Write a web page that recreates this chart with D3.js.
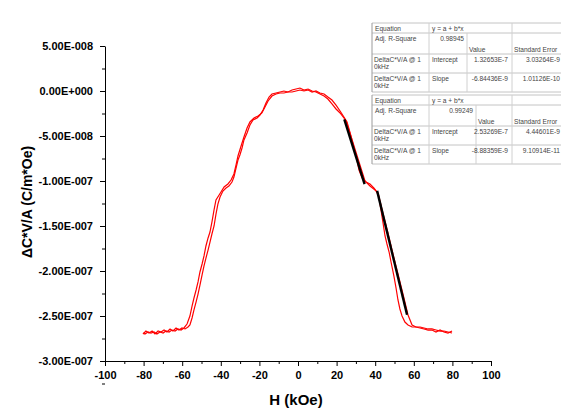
<!DOCTYPE html>
<html>
<head>
<meta charset="utf-8">
<script src="https://cdn.jsdelivr.net/npm/d3@7"></script>
<style>
  body { margin: 0; background: #fff; }
  text { font-family: Arial, "Liberation Sans", sans-serif; }
</style>
</head>
<body>
<svg id="chart" width="561" height="410"></svg>
<script>
// sweep up: H (kOe) and signal (units of 1e-8 C/m*Oe)
var hUp = [-80.3,-78.8,-77.2,-75.6,-74.1,-72.5,-71.0,-69.4,-67.9,-66.3,-64.8,-63.2,-61.7,-60.1,-58.5,-57.0,
  -56.0,-54.9,-53.9,-52.8,-51.8,-50.8,-49.7,-48.7,-47.7,-46.6,-45.6,-44.6,-43.5,-42.5,-41.5,-40.4,-38.9,-37.3,
  -35.8,-34.2,-33.2,-32.1,-31.1,-30.1,-29.0,-28.0,-26.4,-24.9,-23.3,-21.2,-19.7,-18.1,-16.6,-15.0,-13.5,-11.4,
  -9.3,-7.3,-5.2,-3.1,-1.0,1.0,3.1,5.2,7.3,9.3,11.4,13.5,15.5,17.6,19.7,21.8,23.8,24.9,26.9,29.5,32.1,34.7,
  37.3,39.9,41.5,44.0,46.6,49.2,51.8,54.4,57.0,59.1,61.1,63.2,65.3,67.4,69.4,71.5,73.6,75.6,77.7,79.8];
var vUp = [-27.0,-26.67,-26.89,-26.67,-27.0,-26.67,-26.78,-26.56,-26.78,-26.44,-26.67,-26.33,-26.56,-26.33,-26.44,-26.22,
  -26.0,-25.22,-24.33,-23.44,-22.56,-21.56,-20.44,-19.44,-18.56,-17.67,-16.78,-15.89,-15.0,-13.67,-12.56,-11.78,-11.11,-10.78,
  -10.56,-10.11,-9.56,-8.56,-7.67,-7.11,-6.33,-5.44,-4.67,-3.78,-3.22,-3.0,-2.67,-2.11,-1.33,-0.67,-0.33,-0.22,
  -0.11,0,-0.11,0.11,0.22,0.33,0.11,0.22,0,-0.11,-0.33,-0.56,-0.89,-1.44,-2.0,-2.44,-3.0,-3.33,-4.67,-6.44,-8.22,-10.0,
  -10.56,-11.0,-11.33,-13.56,-15.78,-18.11,-20.33,-22.56,-24.89,-26.0,-26.22,-26.22,-26.33,-26.44,-26.44,-26.56,-26.67,-26.67,-26.78,-26.89];

// sweep down
var hDown = [79.8,77.7,75.6,73.6,71.5,69.4,67.4,65.3,63.2,61.1,59.1,57.0,55.4,53.9,52.8,51.8,50.8,49.7,48.2,47.2,
  46.1,45.1,44.0,43.0,42.0,40.9,39.4,37.3,35.2,33.2,31.6,30.1,28.5,26.9,25.4,23.8,21.8,19.7,17.6,15.5,13.5,11.4,
  9.3,7.3,5.2,3.1,1.0,-1.0,-3.1,-5.2,-7.3,-9.3,-11.4,-13.5,-15.5,-17.1,-18.7,-20.7,-22.8,-24.9,-26.4,-28.0,-29.5,
  -31.1,-32.1,-33.2,-34.7,-36.3,-38.3,-39.9,-42.5,-43.5,-44.6,-45.6,-46.6,-47.7,-48.7,-49.7,-50.8,-51.8,-52.8,
  -53.9,-54.9,-56.0,-57.5,-59.1,-60.6,-62.2,-63.7,-65.3,-66.8,-68.4,-69.9,-71.5,-73.1,-74.6,-76.2,-77.7,-79.3,-80.3];
var vDown = [-26.67,-26.89,-26.78,-26.56,-26.78,-26.56,-26.56,-26.44,-26.33,-26.22,-26.22,-26.0,-25.67,-25.0,-24.22,-23.22,-21.89,-20.56,-19.0,-17.89,
  -17.0,-16.11,-14.56,-13.22,-11.89,-11.22,-10.78,-10.33,-10.11,-9.67,-8.78,-7.22,-5.89,-4.56,-3.44,-2.89,-2.22,-1.56,-1.0,-0.67,-0.33,-0.22,
  0,-0.11,0.11,0,0.11,0,-0.11,-0.11,-0.22,-0.22,-0.33,-0.56,-1.11,-1.78,-2.44,-2.78,-3.0,-3.44,-4.11,-5.11,-6.11,
  -7.22,-8.22,-9.22,-9.89,-10.33,-10.67,-11.22,-12.11,-13.22,-14.56,-15.67,-16.33,-17.22,-18.33,-19.22,-20.11,-21.22,-22.11,
  -23.0,-23.89,-25.0,-25.89,-26.33,-26.56,-26.44,-26.67,-26.56,-26.78,-26.67,-26.89,-26.78,-27.0,-26.78,-26.89,-26.78,-27.0,-26.89,-27.11];

// linear fits y = a + b*x
var fitA = [1.32653e-7, 2.53269e-7];
var fitB = [-6.84436e-9, -8.88359e-9];
var fitFrom = [24, 41];
var fitTo = [34.5, 56.5];

var xTicks = [-100,-80,-60,-40,-20,0,20,40,60,80,100];
var yTicks = [5e-8,0,-5e-8,-1e-7,-1.5e-7,-2e-7,-2.5e-7,-3e-7];

var tableR2 = ["0.98945", "0.99249"];
var tableValue = [["1.32653E-7","-6.84436E-9"], ["2.53269E-7","-8.88359E-9"]];
var tableErr = [["3.03264E-9","1.01126E-10"], ["4.44601E-9","9.10914E-11"]];

var svg = d3.select("#chart");

var x = d3.scaleLinear().domain([-100, 100]).range([105, 491]);
var y = d3.scaleLinear().domain([-3e-7, 5e-8]).range([361, 46]);

function fmtE(v) {
  if (v === 0) return "0.00E+000";
  var parts = v.toExponential(2).split("e");
  var e = +parts[1];
  var es = (e < 0 ? "-" : "+") + String(Math.abs(e)).padStart(3, "0");
  return parts[0] + "E" + es;
}

// minor ticks
svg.append("g")
  .attr("transform", "translate(0,361)")
  .call(d3.axisBottom(x).tickValues(d3.range(-90, 100, 20)).tickSize(3).tickSizeOuter(0).tickFormat(""))
  .call(g => g.select(".domain").remove());
svg.append("g")
  .attr("transform", "translate(105,0)")
  .call(d3.axisLeft(y).tickValues(d3.range(-7, 1).map(k => (k + 0.5) * 5e-8)).tickSize(3).tickSizeOuter(0).tickFormat(""))
  .call(g => g.select(".domain").remove());

// main axes
var xAxis = svg.append("g")
  .attr("transform", "translate(0,361)")
  .call(d3.axisBottom(x).tickValues(xTicks).tickSize(5).tickSizeOuter(0).tickPadding(5).tickFormat(d => String(d)));
var yAxis = svg.append("g")
  .attr("transform", "translate(105,0)")
  .call(d3.axisLeft(y).tickValues(yTicks).tickSize(5).tickSizeOuter(0).tickPadding(7).tickFormat(fmtE));

[xAxis, yAxis].forEach(function(g) {
  g.selectAll("text").attr("font-size", 11).attr("font-weight", "bold").attr("fill", "#000")
    .attr("font-family", "Arial, 'Liberation Sans', sans-serif");
  g.selectAll("line, path").attr("stroke", "#000");
});

svg.append("text")
  .attr("x", 296).attr("y", 405)
  .attr("text-anchor", "middle")
  .attr("font-size", 15).attr("font-weight", "bold")
  .text("H (kOe)");

svg.append("text")
  .attr("transform", "translate(32,202) rotate(-90)")
  .attr("text-anchor", "middle")
  .attr("font-size", 14).attr("font-weight", "bold")
  .text("\u0394C*V/A (C/m*Oe)");

// curves
var line = d3.line().x(d => x(d[0])).y(d => y(d[1] * 1e-8));
var up = hUp.map((h, i) => [h, vUp[i]]);
var down = hDown.map((h, i) => [h, vDown[i]]);

svg.append("path").datum(up)
  .attr("d", line).attr("fill", "none").attr("stroke", "#ff0000").attr("stroke-width", 1.2);
svg.append("path").datum(down)
  .attr("d", line).attr("fill", "none").attr("stroke", "#ff0000").attr("stroke-width", 1.2);

// fit lines
var fitLine = d3.line().x(d => x(d[0])).y(d => y(d[1]));
fitA.forEach(function(a, i) {
  var pts = [fitFrom[i], fitTo[i]].map(h => [h, a + fitB[i] * h]);
  svg.append("path").datum(pts)
    .attr("d", fitLine).attr("fill", "none").attr("stroke", "#000").attr("stroke-width", 2.4);
});

// fit tables
function drawTable(k, top, col3) {
  var g = svg.append("g").attr("font-size", 6.6).attr("fill", "#444");
  var left = 372, c2 = 429, c4 = 512, right = 561;
  var hl = [0, 10, 31, 50, 69];
  hl.forEach(function(dy) {
    g.append("line").attr("x1", left).attr("x2", right).attr("y1", top + dy).attr("y2", top + dy)
      .attr("stroke", "#c4c4c4").attr("stroke-width", 1);
  });
  [left, c2, col3, c4].forEach(function(cx, j) {
    g.append("line").attr("x1", cx).attr("x2", cx)
      .attr("y1", j === 2 ? top + 10 : top).attr("y2", top + 69)
      .attr("stroke", j === 0 ? "#9a9a9a" : "#d0d0d0").attr("stroke-width", 1);
  });
  g.append("text").attr("x", left + 3).attr("y", top + 8).text("Equation");
  g.append("text").attr("x", c2 + 3).attr("y", top + 8).text("y = a + b*x");
  g.append("text").attr("x", left + 3).attr("y", top + 18).text("Adj. R-Square");
  g.append("text").attr("x", col3 - 3).attr("y", top + 18).attr("text-anchor", "end").text(tableR2[k]);
  g.append("text").attr("x", col3 + 2).attr("y", top + 29).text("Value");
  g.append("text").attr("x", c4 + 2).attr("y", top + 29).text("Standard Error");
  ["Intercept", "Slope"].forEach(function(name, r) {
    var ry = top + 39 + r * 19;
    g.append("text").attr("x", left + 2).attr("y", ry).text("DeltaC*V/A @ 1");
    g.append("text").attr("x", left + 2).attr("y", ry + 7).text("0kHz");
    g.append("text").attr("x", c2 + 3).attr("y", ry).text(name);
    g.append("text").attr("x", c4 - 4).attr("y", ry).attr("text-anchor", "end").text(tableValue[k][r]);
    g.append("text").attr("x", right - 1).attr("y", ry).attr("text-anchor", "end").text(tableErr[k][r]);
  });
}
drawTable(0, 23, 467);
drawTable(1, 95, 476);
</script>
</body>
</html>
